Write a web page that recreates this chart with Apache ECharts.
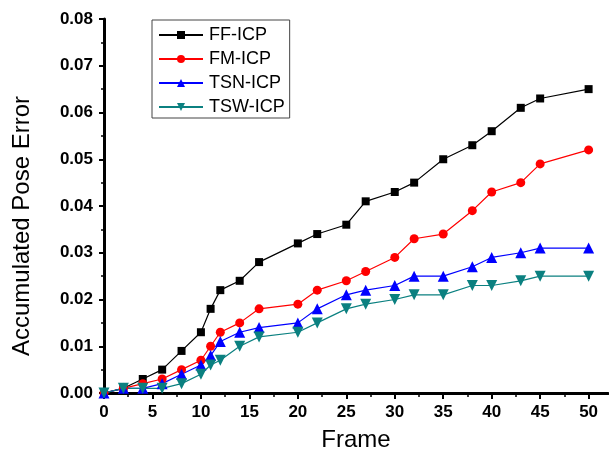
<!DOCTYPE html>
<html>
<head>
<meta charset="utf-8">
<title>Accumulated Pose Error</title>
<script src="https://cdn.jsdelivr.net/npm/echarts@6/dist/echarts.min.js"></script>
<style>
html,body{margin:0;padding:0;background:#fff;}
#main{width:609px;height:457px;}
</style>
</head>
<body>
<div id="main"></div>
<script>
// frames
var frames = [0, 2, 4, 6, 8, 10, 11, 12, 14, 16, 20, 22, 25, 27, 30, 32, 35, 38, 40, 43, 45, 50];
var ffIcp  = [0, 0.001, 0.003, 0.005, 0.009, 0.013, 0.018, 0.022, 0.024, 0.028, 0.032, 0.034, 0.036, 0.041, 0.043, 0.045, 0.050, 0.053, 0.056, 0.061, 0.063, 0.065];
var fmIcp  = [0, 0.001, 0.002, 0.003, 0.005, 0.007, 0.010, 0.013, 0.015, 0.018, 0.019, 0.022, 0.024, 0.026, 0.029, 0.033, 0.034, 0.039, 0.043, 0.045, 0.049, 0.052];
var tsnIcp = [0, 0.001, 0.001, 0.002, 0.004, 0.006, 0.008, 0.011, 0.013, 0.014, 0.015, 0.018, 0.021, 0.022, 0.023, 0.025, 0.025, 0.027, 0.029, 0.030, 0.031, 0.031];
var tswIcp = [0, 0.001, 0.001, 0.001, 0.002, 0.004, 0.006, 0.007, 0.010, 0.012, 0.013, 0.015, 0.018, 0.019, 0.020, 0.021, 0.021, 0.023, 0.023, 0.024, 0.025, 0.025];
var xTicks = [0, 5, 10, 15, 20, 25, 30, 35, 40, 45, 50];

function pairs(ys){
    var out = [];
    for (var i = 0; i < frames.length; i++) {
        out.push([frames[i], ys[i]]);
    }
    return out;
}

var dom = document.getElementById("main");
var myChart = echarts.init(dom);
var option = null;
var font = '"Liberation Sans", Arial, sans-serif';

option = {
    backgroundColor: '#fff',
    animation: false,
    textStyle: {fontFamily: font},
    grid: {
        left: 104,
        right: 1,
        top: 19,
        bottom: 62
    },
    legend: {
        orient: 'vertical',
        left: 152,
        top: 20,
        padding: [6, 5, 2, 6],
        itemWidth: 44,
        itemHeight: 10,
        itemGap: 6,
        borderColor: '#444',
        borderWidth: 1,
        textStyle: {fontSize: 18, color: '#000', fontFamily: font, padding: [0, 0, 0, 1]},
        data: ['FF-ICP', 'FM-ICP', 'TSN-ICP', 'TSW-ICP']
    },
    xAxis: {
        type: 'value',
        min: 0,
        max: 52,
        interval: 5,
        name: 'Frame',
        nameLocation: 'middle',
        nameGap: 35,
        nameTextStyle: {fontSize: 24, color: '#000', fontFamily: font},
        axisLine: {onZero: false, lineStyle: {color: '#000', width: 3}},
        axisTick: {show: true, length: 6, customValues: xTicks, lineStyle: {color: '#000', width: 2}},
        minorTick: {show: true, splitNumber: 2, length: 4, lineStyle: {color: '#000', width: 1.5}},
        axisLabel: {
            margin: 11,
            customValues: xTicks,
            fontSize: 17,
            fontWeight: 'bold',
            color: '#000',
            fontFamily: font
        },
        splitLine: {show: false}
    },
    yAxis: {
        type: 'value',
        min: 0,
        max: 0.08,
        interval: 0.01,
        name: 'Accumulated Pose Error',
        nameLocation: 'middle',
        nameGap: 70,
        nameTextStyle: {fontSize: 24, color: '#000', fontFamily: font, padding: [0, 40, 0, 0]},
        axisLine: {onZero: false, lineStyle: {color: '#000', width: 3}},
        axisTick: {show: true, length: 5, lineStyle: {color: '#000', width: 2}},
        minorTick: {show: true, splitNumber: 2, length: 3, lineStyle: {color: '#000', width: 1.5}},
        axisLabel: {
            margin: 11,
            fontSize: 17,
            fontWeight: 'bold',
            color: '#000',
            fontFamily: font,
            formatter: function (v) { return v.toFixed(2); }
        },
        splitLine: {show: false}
    },
    series: [
        {
            name: 'FF-ICP',
            type: 'line',
            symbol: 'rect',
            symbolSize: 8,
            color: '#000000',
            lineStyle: {width: 1.2},
            data: pairs(ffIcp)
        },
        {
            name: 'FM-ICP',
            type: 'line',
            symbol: 'circle',
            symbolSize: 9,
            color: '#ff0000',
            lineStyle: {width: 1.2},
            data: pairs(fmIcp)
        },
        {
            name: 'TSN-ICP',
            type: 'line',
            symbol: 'triangle',
            symbolSize: 11,
            color: '#0000ff',
            lineStyle: {width: 1.2},
            data: pairs(tsnIcp)
        },
        {
            name: 'TSW-ICP',
            type: 'line',
            symbol: 'triangle',
            symbolRotate: 180,
            symbolSize: 11,
            color: '#0b8080',
            lineStyle: {width: 1.2},
            data: pairs(tswIcp)
        }
    ]
};

if (option && typeof option === "object") {
    myChart.setOption(option, true);
}
</script>
</body>
</html>
